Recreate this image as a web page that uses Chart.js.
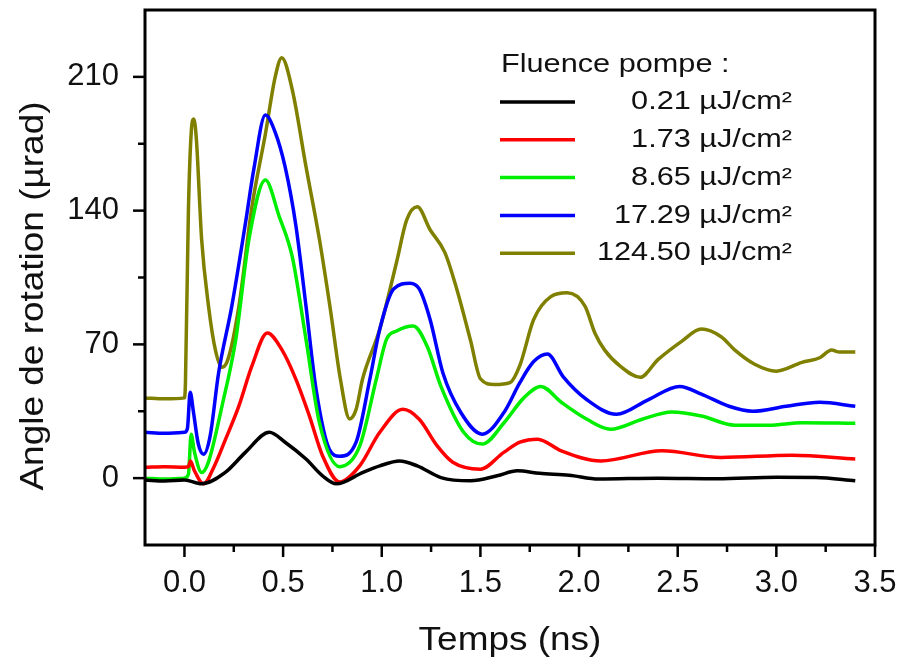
<!DOCTYPE html>
<html><head><meta charset="utf-8">
<script src="https://cdn.jsdelivr.net/npm/chart.js@4"></script>
<style>html,body{margin:0;padding:0;background:#fff}</style>
</head><body>
<canvas id="c" width="903" height="665" style="display:block;width:903px;height:665px"></canvas>
<script>
const FONT = '"Liberation Sans", Arial, sans-serif';
const legendTitle = 'Fluence pompe :';
const xTitle = 'Temps (ns)';
const yTitle = 'Angle de rotation (µrad)';
const seriesLabels = ['0.21 µJ/cm²', '1.73 µJ/cm²', '8.65 µJ/cm²', '17.29 µJ/cm²', '124.50 µJ/cm²'];
const seriesColors = ['#000000', '#ff0000', '#00ee00', '#0000ff', '#808000'];

const blackT = [-0.2,-0.1,0.0,0.087,0.207,0.31,0.43,0.51,0.616,0.70,0.77,0.905,0.99,1.09,1.18,1.30,1.45,1.585,1.687,1.80,1.95,2.1,2.4,2.7,3.0,3.2,3.4];
const blackV = [-1,-1.5,-1,-3,3,13.6,24,18.8,10,1.2,-3,3,6.4,9,6.4,0.3,-1.4,1.2,3.8,2.5,1.5,-0.5,0,-0.3,0.4,0.3,-1.4];

const redT = [-0.2,-0.1,0.0,0.02,0.03,0.05,0.097,0.15,0.207,0.276,0.342,0.42,0.495,0.565,0.633,0.70,0.786,0.888,0.99,1.107,1.19,1.28,1.36,1.5,1.62,1.70,1.79,1.91,2.11,2.42,2.72,3.08,3.4];
const redV = [5.7,6,5.7,6,9,4,-3,6,20,37.8,58.7,76,67,51.7,32.6,11.7,-2,6.4,24,36,30.8,17,8.3,4.7,13.6,18.8,20.4,14.3,9,14.3,10.8,12,10];

const greenT = [-0.2,-0.1,0.0,0.02,0.034,0.05,0.087,0.12,0.19,0.26,0.327,0.41,0.48,0.546,0.616,0.684,0.786,0.888,0.973,1.024,1.075,1.16,1.23,1.30,1.415,1.51,1.62,1.72,1.806,1.91,2.04,2.16,2.32,2.47,2.62,2.79,2.96,3.13,3.4];
const greenV = [0,-0.5,0,2,23,14,3,8,37.6,72.6,125,156,137,116,72.6,29,6,16.7,52,72.6,77,79.6,69,48,24,17.8,29,42,48,39.7,30.8,25.6,30.8,34.6,32.5,27.7,27.7,29,28.7];

const blueT = [-0.2,-0.1,0.0,0.015,0.029,0.045,0.07,0.097,0.13,0.173,0.24,0.31,0.352,0.41,0.46,0.51,0.565,0.616,0.667,0.735,0.786,0.87,0.94,0.99,1.06,1.143,1.19,1.245,1.31,1.40,1.51,1.62,1.70,1.77,1.84,1.92,2.04,2.19,2.35,2.51,2.62,2.76,2.88,3.05,3.22,3.4];
const blueV = [24,23.5,24,26,45,35,18,12.5,22,55,90,134,162,190,181,163,132,90,46.5,15,11.5,18.8,52,78,99,102,99,83,55,34.5,23,34.5,50,61,65,53,41,33.4,41,48,44,37.6,35,37.6,39.7,37.6];

const oliveT = [-0.2,-0.1,0.0,0.005,0.02,0.035,0.047,0.06,0.087,0.122,0.157,0.19,0.22,0.276,0.342,0.41,0.46,0.493,0.547,0.616,0.684,0.74,0.79,0.837,0.87,0.903,0.99,1.075,1.126,1.18,1.245,1.32,1.38,1.45,1.5,1.57,1.65,1.70,1.77,1.857,1.94,2.03,2.08,2.13,2.21,2.31,2.40,2.52,2.62,2.72,2.79,2.89,3.0,3.13,3.22,3.28,3.32,3.4];
const oliveV = [42,41.5,42,50,140,182,188,178,125,90,67,58,62,90,142,180,210,220,203,163,125,88,52,31,36,52,78,113,135,142,130,118,99,72,52,49,50,59,83,95,97,90,76,67,58.5,52.8,62,71.6,78,74,67,59.6,56,60.6,63,67,66,66];

const xTickValues = [0,0.5,1.0,1.5,2.0,2.5,3.0,3.5];
const xMinorValues = [0.25,0.75,1.25,1.75,2.25,2.75,3.25];
const yTickValues = [0,70,140,210];
const yMinorValues = [35,105,175];

const seriesT = [blackT, redT, greenT, blueT, oliveT];
const seriesV = [blackV, redV, greenV, blueV, oliveV];

const datasets = seriesLabels.map((lab, i) => ({
  label: lab,
  data: seriesT[i].map((t, k) => ({x: t, y: seriesV[i][k]})),
  borderColor: seriesColors[i],
  backgroundColor: seriesColors[i],
  borderWidth: 3.5,
  pointRadius: 0,
  cubicInterpolationMode: 'monotone',
  fill: false
}));

function stretchedText(ctx, text, x, y, sx, align) {
  ctx.save();
  ctx.translate(x, y);
  ctx.scale(sx, 1);
  ctx.textAlign = align;
  ctx.fillText(text, 0, 0);
  ctx.restore();
}

const framePlugin = {
  id: 'frame',
  afterDraw(chart) {
    const {ctx, chartArea: a, scales: {x, y}} = chart;
    ctx.save();
    ctx.strokeStyle = '#000';
    ctx.lineWidth = 3;
    ctx.strokeRect(a.left, a.top, a.right - a.left, a.bottom - a.top);
    ctx.lineWidth = 2.5;
    const seg = (x1, y1, x2, y2) => { ctx.beginPath(); ctx.moveTo(x1, y1); ctx.lineTo(x2, y2); ctx.stroke(); };
    xTickValues.forEach(v => { const p = x.getPixelForValue(v); seg(p, a.bottom, p, a.bottom + 12); });
    xMinorValues.forEach(v => { const p = x.getPixelForValue(v); seg(p, a.bottom, p, a.bottom + 7); });
    yTickValues.forEach(v => { const p = y.getPixelForValue(v); seg(a.left, p, a.left - 12, p); });
    yMinorValues.forEach(v => { const p = y.getPixelForValue(v); seg(a.left, p, a.left - 7, p); });
    ctx.fillStyle = '#111';
    ctx.textBaseline = 'middle';
    ctx.font = '33px ' + FONT;
    stretchedText(ctx, xTitle, (a.left + a.right) / 2, 641, 1.12, 'center');
    ctx.save();
    ctx.translate(34, 296);
    ctx.rotate(-Math.PI / 2);
    stretchedText(ctx, yTitle, 0, 0, 1.12, 'center');
    ctx.restore();
    ctx.font = '26px ' + FONT;
    stretchedText(ctx, legendTitle, 501, 65, 1.18, 'left');
    chart.data.datasets.forEach((ds, i) => {
      const yy = 102 + i * 37.8;
      ctx.strokeStyle = ds.borderColor;
      ctx.lineWidth = 3.5;
      seg(500, yy, 575, yy);
      stretchedText(ctx, ds.label, 792, yy, 1.18, 'right');
    });
    ctx.restore();
  }
};

function zeroPad(s) { s.paddingTop = 0; s.paddingBottom = 0; s.paddingLeft = 0; s.paddingRight = 0; }

new Chart(document.getElementById('c'), {
  type: 'line',
  data: {datasets},
  plugins: [framePlugin],
  options: {
    responsive: false,
    animation: false,
    events: [],
    layout: {padding: {left: 0, top: 10, right: 28, bottom: 0}},
    plugins: {legend: {display: false}, tooltip: {enabled: false}},
    scales: {
      x: {
        type: 'linear', min: -0.2, max: 3.5,
        afterBuildTicks: s => { s.ticks = xTickValues.map(v => ({value: v})); },
        afterFit: s => { s.height = 120; zeroPad(s); },
        border: {display: false},
        grid: {drawOnChartArea: false, tickLength: 12, tickColor: 'transparent'},
        ticks: {font: {size: 31, family: FONT}, color: '#111', padding: 8, maxRotation: 0, autoSkip: false,
                callback: v => Number(v).toFixed(1)},
        title: {display: false}
      },
      y: {
        type: 'linear', min: -35, max: 245,
        afterBuildTicks: s => { s.ticks = yTickValues.map(v => ({value: v})); },
        afterFit: s => { s.width = 145; zeroPad(s); },
        border: {display: false},
        grid: {drawOnChartArea: false, tickLength: 12, tickColor: 'transparent'},
        ticks: {font: {size: 31, family: FONT}, color: '#111', padding: 14, autoSkip: false},
        title: {display: false}
      }
    }
  }
});
</script>
</body></html>
